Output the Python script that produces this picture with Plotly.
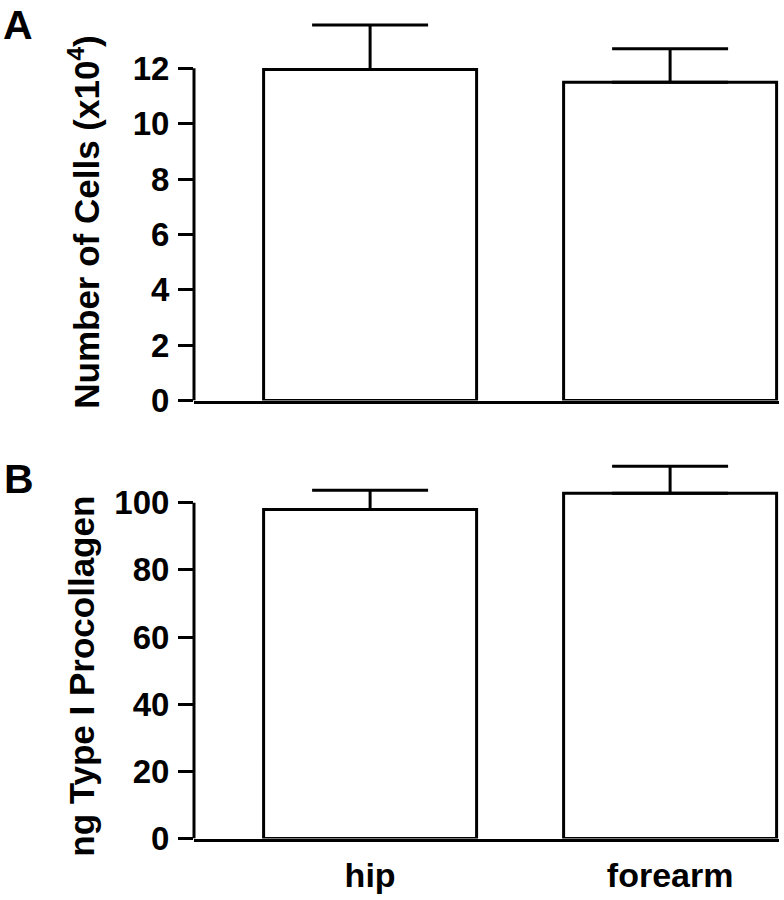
import plotly.graph_objects as go

categories = ["hip", "forearm"]
cells_values = [11.96, 11.5]
cells_errors = [1.6, 1.21]
procollagen_values = [98.0, 102.8]
procollagen_errors = [5.75, 8.1]
cells_ticks = [0, 2, 4, 6, 8, 10, 12]
procollagen_ticks = [0, 20, 40, 60, 80, 100]

FONT = "Liberation Sans, Arial, Helvetica, sans-serif"
BLACK = "#000000"
LW = 3
S = 918 / 900               # vertical stretch to offset the capture squash
W, H = 784, 918
ML, MR = 194, 5
PW = W - ML - MR


def px_x(px):
    return (px - ML) / PW


def px_y(ref_py):
    return 1 - ref_py * S / H


fig = go.Figure()


def add_bars(vals, errs, xa, ya):
    fig.add_trace(go.Bar(
        x=categories, y=vals, xaxis=xa, yaxis=ya,
        width=0.71,
        marker=dict(color="white", line=dict(color=BLACK, width=LW)),
        error_y=dict(type="data", symmetric=False, array=errs,
                     arrayminus=[0] * len(errs), color=BLACK,
                     thickness=LW, width=58),
        showlegend=False, hoverinfo="skip",
    ))


add_bars(cells_values, cells_errors, "x", "y")
add_bars(procollagen_values, procollagen_errors, "x2", "y2")

tickfont = dict(family=FONT, size=33, color=BLACK, weight="bold")
xtickfont = dict(family=FONT, size=34, color=BLACK, weight="bold")

xcommon = dict(type="category", range=[-0.587, 1.363], showgrid=False,
               zeroline=False, showline=True, linecolor=BLACK, linewidth=LW,
               ticks="", fixedrange=True)
ycommon = dict(showgrid=False, zeroline=False, showline=False,
               ticks="outside", ticklen=15, tickwidth=LW, tickcolor=BLACK,
               tickfont=tickfont, tickmode="array", ticklabelstandoff=2,
               fixedrange=True)

fig.update_layout(
    width=W, height=H,
    margin=dict(l=ML, r=MR, t=0, b=0),
    paper_bgcolor="white", plot_bgcolor="white",
    xaxis=dict(domain=[0, 1], anchor="y", showticklabels=False, **xcommon),
    yaxis=dict(domain=[px_y(401), px_y(18.5)], anchor="x", range=[0, 13.8],
               tickvals=cells_ticks, **ycommon),
    xaxis2=dict(domain=[0, 1], anchor="y2", showticklabels=True,
                tickfont=xtickfont, ticklabelstandoff=5, **xcommon),
    yaxis2=dict(domain=[px_y(839.5), px_y(459.6)], anchor="x2",
                range=[0, 113], tickvals=procollagen_ticks, **ycommon),
    bargap=0.29,
)

# y-axis spines that stop at the top tick
fig.add_shape(type="line", xref="x domain", yref="y", x0=0, x1=0,
              y0=cells_ticks[0], y1=cells_ticks[-1],
              line=dict(color=BLACK, width=LW))
fig.add_shape(type="line", xref="x2 domain", yref="y2", x0=0, x1=0,
              y0=procollagen_ticks[0], y1=procollagen_ticks[-1],
              line=dict(color=BLACK, width=LW))

titlefont = dict(family=FONT, size=35, color=BLACK, weight="bold")
letterfont = dict(family=FONT, size=41, color=BLACK, weight="bold")

fig.add_annotation(text="Number of Cells (x10<sup>4</sup>)", textangle=-90,
                   xref="paper", yref="paper", x=px_x(84), y=px_y(223),
                   xanchor="center", yanchor="middle", showarrow=False,
                   font=titlefont)
fig.add_annotation(text="ng Type I Procollagen", textangle=-90,
                   xref="paper", yref="paper", x=px_x(82), y=px_y(676.5),
                   xanchor="center", yanchor="middle", showarrow=False,
                   font=titlefont)
fig.add_annotation(text="A", xref="paper", yref="paper",
                   x=px_x(1), y=px_y(0), xanchor="left", yanchor="top",
                   showarrow=False, font=letterfont)
fig.add_annotation(text="B", xref="paper", yref="paper",
                   x=px_x(2), y=px_y(455), xanchor="left", yanchor="top",
                   showarrow=False, font=letterfont)

fig.write_html(
    "out.html",
    config={"displayModeBar": False},
    post_script="document.body.style.margin='0';"
                "document.body.style.padding='0';",
)
